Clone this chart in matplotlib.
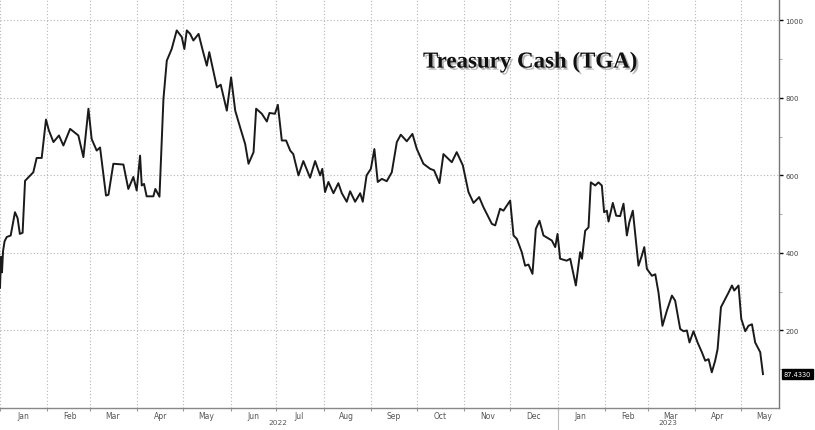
import matplotlib
matplotlib.use("Agg")
import matplotlib.pyplot as plt
import matplotlib.dates as mdates
import matplotlib.patheffects as pe
from matplotlib.transforms import blended_transform_factory
import pandas as pd

# ---- data (days after 2022-01-01, TGA balance in $bn) ----
days = [0, 0.7, 1.3, 2, 3, 4.4, 7, 9.8, 11.5, 13, 14.8, 16.4, 19.6, 21.8, 24, 27.3,
        30.1, 32, 35, 38.6, 41.5, 45.9, 51.3, 54.6, 57.9, 60, 63.3, 65.5, 69.4, 71,
        74.2, 80.8, 84, 87.3, 89.5, 91.7, 92.8, 94.3, 96, 100.4, 101.7, 104.4, 107,
        109.2, 112.4, 115.7, 119, 120.7, 122.3, 124.5, 126.6, 130, 133, 135.4, 137,
        142, 144.5, 148.5, 151.3, 154, 157.2, 160.5, 162.7, 166, 167.7, 171.4, 174.7,
        176.4, 180, 181.9, 184.5, 187.3, 190, 192, 195.4, 198.6, 203, 206.3, 209.6,
        211, 212.8, 215, 218.3, 221.5, 223.8, 227, 229.2, 232.5, 235.8, 237.5, 240,
        242.8, 245.1, 247.3, 250, 253.2, 256.5, 259.8, 262.4, 266.3, 270, 272.9,
        277.2, 281.6, 284.2, 287.7, 290.3, 295.8, 299, 303, 306.7, 310, 313.7, 316.5,
        322, 324.2, 327.4, 329.6, 334, 336.2, 338.4, 341.6, 343.8, 346, 348.6, 350.8,
        353.2, 355.8, 361.3, 363.5, 365, 366.7, 371, 373.3, 377, 379.8, 381, 383.1,
        385.3, 386.8, 389.7, 391.8, 394, 395.5, 397.3, 398.4, 401.2, 403.4, 406,
        408.2, 410.4, 412, 414.3, 418, 420.2, 421.8, 423.5, 426.8, 429, 431.1, 433.7,
        436.6, 439.9, 442, 445.3, 447.5, 449.7, 451.4, 454, 456.7, 459.5, 461.7,
        463.9, 466, 468.2, 469.8, 472, 474.8, 477, 479.2, 480.7, 483.5, 485.3, 487.9,
        490, 492.3, 494.4, 497.7, 499.5]
values = [310, 390, 350, 405, 430, 441, 445, 505, 490, 449, 452, 586, 599, 608, 645, 645,
          744, 716, 686, 703, 677, 720, 703, 647, 772, 694, 664, 672, 548, 550,
          630, 628, 565, 596, 561, 651, 574, 578, 546, 546, 565, 545, 797,
          896, 926, 974, 957, 926, 974, 965, 948, 965, 918, 883, 918,
          827, 834, 767, 853, 767, 724, 681, 630, 660, 772, 759, 739,
          761, 759, 782, 690, 690, 664, 655, 600, 637, 594, 637, 600,
          617, 557, 583, 554, 580, 554, 532, 559, 532, 554, 532, 600,
          617, 668, 583, 591, 585, 608, 686, 705, 688, 707, 668,
          630, 617, 613, 580, 655, 634, 660, 626, 557, 529, 544, 518,
          475, 471, 514, 509, 535, 445, 436, 402, 367, 370, 346, 462,
          483, 445, 432, 415, 449, 385, 380, 385, 316, 402, 385, 457,
          466, 582, 574, 582, 574, 505, 509, 481, 529, 496, 495,
          527, 445, 479, 509, 367, 393, 415, 359, 341, 345, 298, 212,
          251, 290, 277, 204, 198, 200, 169, 198, 169, 144, 122,
          126, 92, 122, 152, 260, 281, 298, 316, 303, 316, 230, 198,
          212, 216, 169, 144, 87.433]
last_label = "87.4330"
title = "Treasury Cash (TGA)"
y_ticks = [200, 400, 600, 800, 1000]
year_labels = [("2022", "2022-07-02"), ("2023", "2023-03-14")]

dates = pd.Timestamp("2022-01-01") + pd.to_timedelta(days, unit="D")

W, H = 815, 431
fig = plt.figure(figsize=(W / 100, H / 100), dpi=100)
ax = fig.add_axes([0, 22 / H, 779 / W, 1 - 22 / H])

ax.plot(dates, values, color="#1a1a1a", lw=1.4, solid_joinstyle="round")

ax.set_xlim(pd.Timestamp("2022-01-01"), pd.Timestamp("2023-05-26"))
ax.set_ylim(0, 1055)

# spines
for s in ["left", "top"]:
    ax.spines[s].set_visible(False)
ax.spines["right"].set_color("#777777")
ax.spines["bottom"].set_color("#888888")
ax.spines["right"].set_linewidth(1.0)
ax.spines["bottom"].set_linewidth(1.0)

# y axis on right
ax.yaxis.tick_right()
ax.set_yticks(y_ticks)
ax.set_yticks([100, 300, 500, 700, 900], minor=True)
ax.tick_params(axis="y", which="major", length=3, width=1, color="black",
               labelsize=5, labelcolor="#444444", pad=1.5)
ax.tick_params(axis="y", which="minor", length=2, width=0.6, color="#999999")

# x axis months
ax.xaxis.set_major_locator(mdates.MonthLocator())
ax.xaxis.set_major_formatter(plt.NullFormatter())
ax.xaxis.set_minor_locator(mdates.MonthLocator(bymonthday=16))
ax.xaxis.set_minor_formatter(mdates.DateFormatter("%b"))
ax.tick_params(axis="x", which="major", length=2, color="#999999")
ax.tick_params(axis="x", which="minor", length=0, labelsize=5.5,
               labelcolor="#555555", pad=2)

# grid
ax.grid(True, which="major", axis="both", color="#b5b5b5",
        linestyle=(0, (1, 2)), lw=0.8)

# year labels and separator
tr = blended_transform_factory(ax.transData, ax.transAxes)
for lab, d in year_labels:
    ax.text(pd.Timestamp(d), -0.035, lab, transform=tr, ha="center", va="center",
            fontsize=5.3, color="#555555")
ax.plot([pd.Timestamp("2023-01-01")] * 2, [0, -0.06], transform=tr,
        color="#bbbbbb", lw=0.8, clip_on=False)

# last value label
tr2 = blended_transform_factory(ax.transAxes, ax.transData)
ax.text(1.006, values[-1], last_label, transform=tr2, ha="left", va="center",
        fontsize=4.8, color="white",
        bbox=dict(boxstyle="square,pad=0.25", fc="black", ec="black"))

# title with shadow
fig.text(530 / W, 1 - 63 / H, title, ha="center", va="center",
         fontsize=16.5, fontweight="bold", family="Liberation Serif",
         color="#111111",
         path_effects=[pe.withSimplePatchShadow(offset=(1.5, -1.5),
                                                shadow_rgbFace="#888888",
                                                alpha=0.6)])

fig.savefig("out.png", dpi=100)
